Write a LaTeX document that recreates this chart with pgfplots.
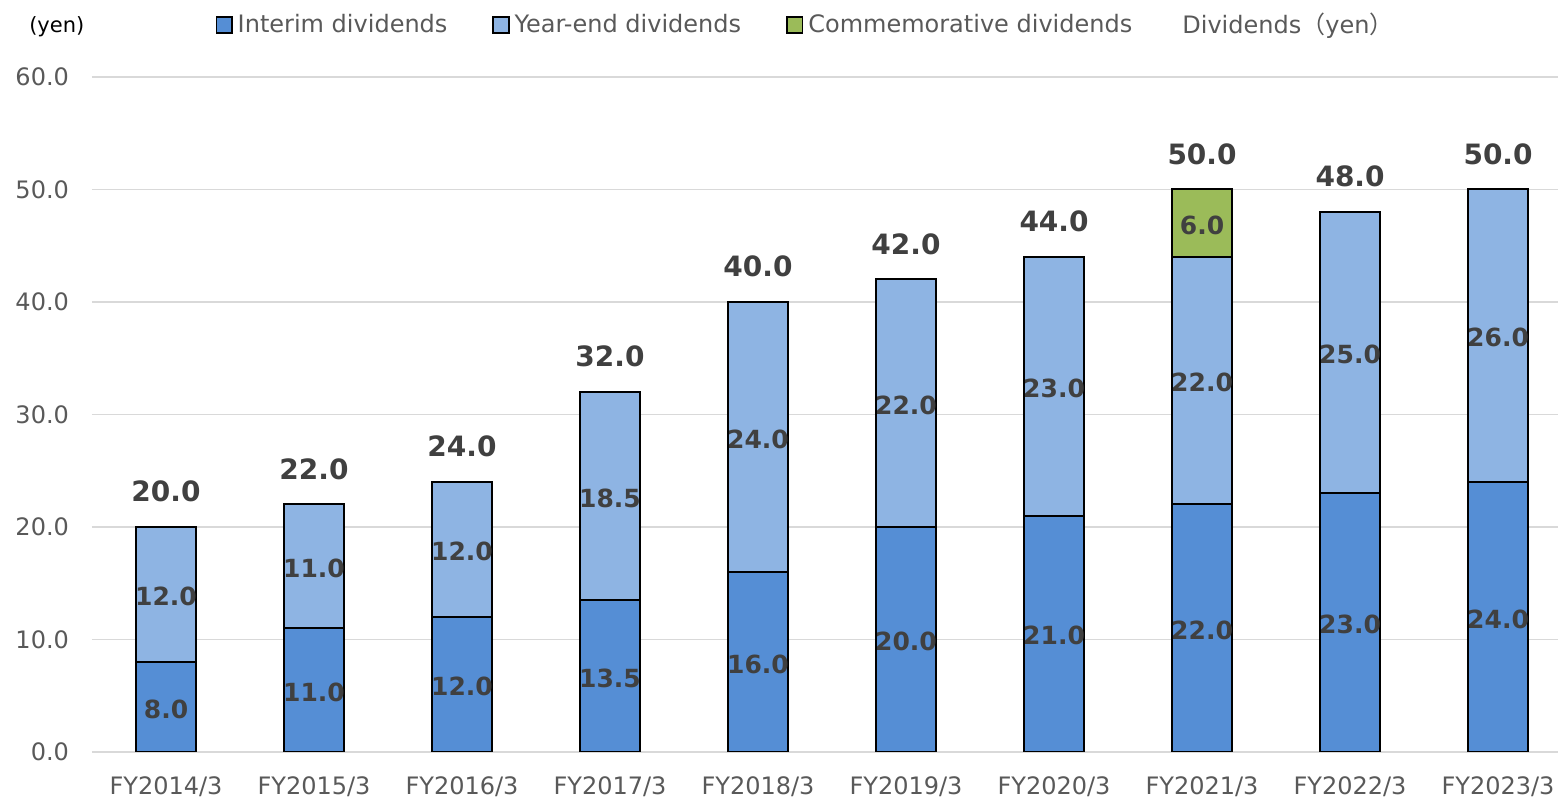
\documentclass[border=0pt]{standalone}
\usepackage{fontspec}
\setmainfont{DejaVu Sans}
\newfontfamily\cjk{Noto Sans CJK JP}
\usepackage{pgfplots}
\usepackage{pgfplotstable}
\pgfplotsset{compat=1.18}
\usetikzlibrary{calc}
\definecolor{interim}{HTML}{558ED5}
\definecolor{yearend}{HTML}{8EB4E3}
\definecolor{commem}{HTML}{9BBB59}
\definecolor{tickc}{HTML}{595959}
\definecolor{labc}{HTML}{404040}
\definecolor{gridc}{HTML}{D9D9D9}

\pgfplotstableread{
x interim yearend commem total
0 8    12   0 20
1 11   11   0 22
2 12   12   0 24
3 13.5 18.5 0 32
4 16   24   0 40
5 20   22   0 42
6 21   23   0 44
7 22   22   6 50
8 23   25   0 48
9 24   26   0 50
}\divtable

\pgfplotstableread{
x imid ilab ymid ylab tlab
0 4     8.0  14    12.0 20.0
1 5.5   11.0 16.5  11.0 22.0
2 6     12.0 18    12.0 24.0
3 6.75  13.5 22.75 18.5 32.0
4 8     16.0 28    24.0 40.0
5 10    20.0 31    22.0 42.0
6 10.5  21.0 32.5  23.0 44.0
7 11    22.0 33    22.0 50.0
8 11.5  23.0 35.5  25.0 48.0
9 12    24.0 37    26.0 50.0
}\labtable

\pgfplotsset{
  common/.style={
    scale only axis, width=733pt, height=337.5pt,
    xmin=-0.5, xmax=9.405, ymin=0, ymax=60,
  },
  seglab/.style={draw=none, mark=none, nodes near coords, point meta=explicit symbolic,
    every node near coord/.style={anchor=center, yshift=-1pt, text=labc,
      font=\fontsize{12.5}{14}\selectfont\bfseries}},
}

\begin{document}
\begin{tikzpicture}
\begin{axis}[
  common, name=main,
  ybar stacked, bar width=0.4,
  xtick={0,...,9},
  xticklabels={FY2014/3,FY2015/3,FY2016/3,FY2017/3,FY2018/3,FY2019/3,FY2020/3,FY2021/3,FY2022/3,FY2023/3},
  ytick={0,10,...,60},
  ymajorgrids, grid style={gridc, line width=0.8pt},
  axis line style={draw=none}, tick style={draw=none}, major tick length=0pt,
  tick label style={font=\fontsize{12}{14}\selectfont, text=tickc},
  yticklabel style={xshift=-8pt, /pgf/number format/fixed, /pgf/number format/fixed zerofill,
    /pgf/number format/precision=1, /pgf/number format/assume math mode=true},
  xticklabel style={yshift=-9pt},
  legend columns=4,
  legend style={at={(0.084,1.077)}, anchor=west, draw=none, fill=none, inner sep=0pt,
    font=\fontsize{12}{14}\selectfont, text=tickc,
    nodes={inner sep=2.5pt},
    /tikz/every odd column/.append style={column sep=0pt},
    /tikz/every even column/.append style={column sep=20pt}},
  legend image code/.code={\draw[#1, draw=black, line width=0.8pt] (0pt,-3.9pt) rectangle (7.8pt,3.9pt);},
]
\addplot[fill=interim, draw=black, line width=1pt] table[x=x, y=interim] {\divtable};
\addlegendentry{Interim dividends}
\addplot[fill=yearend, draw=black, line width=1pt] table[x=x, y=yearend] {\divtable};
\addlegendentry{Year-end dividends}
\addplot[fill=commem, draw=black, line width=1pt] table[x=x, y=commem] {\divtable};
\addlegendentry{Commemorative dividends}
\addlegendimage{empty legend}
\addlegendentry{Dividends{\cjk （}yen{\cjk ）}}
\end{axis}
\begin{axis}[common, hide axis, clip=false]
\addplot[seglab] table[x=x, y=imid, meta=ilab] {\labtable};
\addplot[seglab] table[x=x, y=ymid, meta=ylab] {\labtable};
\addplot[seglab] coordinates {(7,47) [6.0]};
\addplot[draw=none, mark=none, nodes near coords, point meta=explicit symbolic,
  every node near coord/.style={anchor=south, yshift=9pt, text=labc,
    font=\fontsize{14}{16}\selectfont\bfseries}]
  table[x=x, y=tlab, meta=tlab] {\labtable};
\node[font=\fontsize{10.5}{12}\selectfont, text=black] at (rel axis cs:-0.024,1.075) {(yen)};
\end{axis}
\pgfresetboundingbox
\path[use as bounding box] ($(main.south west)+(-46pt,-24pt)$) rectangle ($(main.north east)+(0pt,38.5pt)$);
\end{tikzpicture}
\end{document}
